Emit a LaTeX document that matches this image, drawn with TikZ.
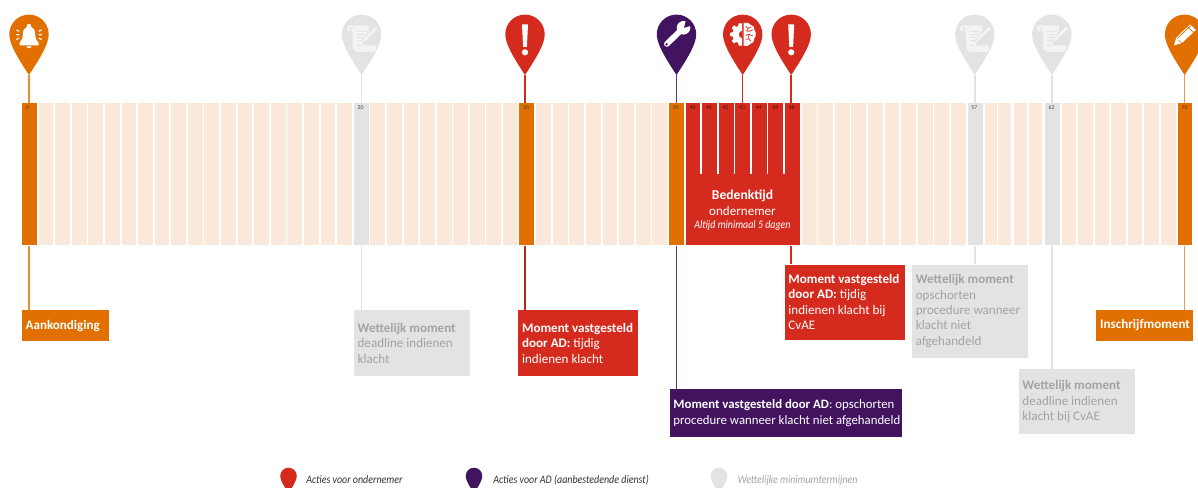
\documentclass[tikz,border=0pt]{standalone}
\usepackage{fontspec}
\setmainfont{Carlito}
\newfontfamily\legendfont[FakeStretch=0.87]{Carlito}
\definecolor{ror}{HTML}{E17000}
\definecolor{rre}{HTML}{D52B1E}
\definecolor{rpu}{HTML}{42145F}
\definecolor{rgr}{HTML}{E3E3E3}
\definecolor{rpa}{HTML}{FAE8DA}
\definecolor{rtx}{HTML}{A3A3A3}
\definecolor{ricg}{HTML}{F3F3F3}
\newcommand{\bl}[1]{\mbox{\spaceskip=2.2pt\relax #1}}
\tikzset{
  barbox/.style={anchor=north west,minimum width=14.8*0.75pt,minimum height=142*0.75pt,inner sep=0pt,fill=#1},
  daylabel/.style={font=\fontsize{4.3}{4.5}\selectfont,text=black!75,inner sep=0pt},
  infobox/.style={anchor=north west,inner ysep=0pt,inner xsep=2.9pt,align=left,fill=#1,font=\fontsize{9.8}{11.6}\selectfont},
  leader/.style={line width=1.1pt,draw=#1},
  legendtext/.style={anchor=west,inner sep=0pt,font=\legendfont\itshape\fontsize{8.6}{10}\selectfont,text=#1},
}
% teardrop in local pixels: head centre (0,0)
\newcommand{\teardrop}[1]{\fill[#1] (0,40.7) .. controls (-13,21) and (-19.7,9) .. (-19.7,0)
  .. controls (-19.7,-10.9) and (-10.9,-19.7) .. (0,-19.7)
  .. controls (10.9,-19.7) and (19.7,-10.9) .. (19.7,0)
  .. controls (19.7,9) and (13,21) .. (0,40.7) -- cycle;}
\newcommand{\iconbell}{%
  \fill[white] (0,-10.5) .. controls (-2.2,-10.5) and (-2.6,-8.5) .. (-2,-7.6)
   .. controls (-5,-6.5) and (-6.2,-3.5) .. (-6.2,0) .. controls (-6.2,4.5) and (-8,6.5) .. (-9.5,8.5)
   -- (-9.5,11) -- (9.5,11) -- (9.5,8.5) .. controls (8,6.5) and (6.2,4.5) .. (6.2,0)
   .. controls (6.2,-3.5) and (5,-6.5) .. (2,-7.6) .. controls (2.6,-8.5) and (2.2,-10.5) .. (0,-10.5) -- cycle;
  \fill[white] (-2.6,12) .. controls (-2,14.6) and (2,14.6) .. (2.6,12) -- cycle;
  \draw[white,line width=.9pt,line cap=round] (-12.3,-4.2)--(-10,-3.2) (-12.6,0.5)--(-10,0.5) (-12.3,5)--(-10,4)
    (12.3,-4.2)--(10,-3.2) (12.6,0.5)--(10,0.5) (12.3,5)--(10,4);}
\newcommand{\iconscript}{%
  \fill[ricg] (-15,-5.5) .. controls (-15,-9) and (-12,-9) .. (-11,-9) -- (7,-9) -- (7,-3) -- (1,6) -- (1,11)
   -- (13,11) .. controls (15,12) and (15,17) .. (12,17.5) -- (-5,17.5) .. controls (-8,17) and (-9,14) .. (-9,11)
   -- (-9,-3.5) -- (-13,-3) .. controls (-14,-3) and (-15,-4) .. (-15,-5.5) -- cycle;
  \draw[rgr,line width=.6pt] (-5,-3)--(5,-3) (-5,0)--(3,0) (-5,3)--(1,3) (-5,6)--(0,6) (-5,11)--(0,11);
  \fill[rgr] (-12,-6) .. controls (-12,-7.5) and (-10,-7.5) .. (-10,-6) -- (-10,-4) -- (-12,-5) -- cycle;
  \draw[rgr,line width=3.2pt] (15,-6.5)--(0.5,8);
  \draw[ricg,line width=2.1pt] (15.2,-6.7)--(3,5.5);
  \fill[ricg] (3.8,6.3) -- (2.2,4.7) -- (0,8.5) -- cycle;}
\newcommand{\iconexcl}{%
  \fill[white] (-3,-9.8) -- (3,-9.8) -- (1.9,12.6) -- (-1.9,12.6) -- cycle;
  \fill[white] (0,18) ellipse [x radius=3.1, y radius=3.1];}
\newcommand{\iconwrench}{%
  \draw[white,line width=4.3pt,line cap=round] (-9.6,9.6) -- (5,-4.5);
  \fill[white] (7,-6.5) ellipse [x radius=6.8, y radius=6.8];
  \fill[rpu] (7.5,-6.5) -- (9.5,-14) -- (14.6,-12) -- (14.6,-8.5) -- cycle;
  \fill[rpu] (-10,10) ellipse [x radius=1.3, y radius=1.3];}
\newcommand{\icongear}{%
  \fill[white] (-0.5,-11) -- (-4,-11) -- (-4.5,-8.4) -- (-6.4,-7.4) -- (-8.6,-9) -- (-11,-6.4) -- (-9.2,-4.2)
   -- (-10,-2) -- (-12.6,-1.6) -- (-12.6,1.8) -- (-10,2.2) -- (-9.2,4.4) -- (-11,6.6) -- (-8.6,9.2) -- (-6.4,7.6)
   -- (-4.5,8.6) -- (-4,11.4) -- (-0.5,11.4) -- cycle;
  \fill[rre] (-0.5,-3.4) .. controls (-5,-3.4) and (-5,3.6) .. (-0.5,3.6) -- cycle;
  \fill[white] (1,-11.4) .. controls (4,-12.4) and (7,-11.4) .. (8,-9.4) .. controls (11,-9) and (12,-6.5) .. (11.6,-4.6)
   .. controls (13.6,-2.5) and (13.6,2) .. (11.6,4) .. controls (12,7) and (10,9) .. (8,9.4)
   .. controls (6.5,11.6) and (3,12.4) .. (1,11.4) -- cycle;
  \draw[rre,line width=.55pt] (3,-8)--(5,-6)--(8,-7) (3,-3.5)--(7,-3)--(10,-4.5) (3,1)--(6,0)--(10,1.5) (3,5)--(6,4.5)--(8,7) (5,-6)--(5,-3.2) (6,0)--(6,4.5);}
\newcommand{\iconpencil}{%
  \fill[white] (-10.7,11) -- (-8.4,3.6) -- (5.4,-10) -- (11.2,-4.3) -- (-3,9) -- cycle;
  \draw[ror,line width=.5pt] (2.9,-7.6) -- (8.7,-1.9) (-6,5.8) -- (-0.8,11) (-6.8,3.8) -- (6,-8.5);}
\newcommand{\mypin}[4]{\begin{scope}[shift={(#1,34.3)}]\teardrop{#2}#3\end{scope}\coordinate (#4) at (#1,75);}
\newcommand{\legendpin}[3]{\begin{scope}[shift={(#1,476)},scale=.42]\teardrop{#2}\end{scope}\coordinate (#3) at (#1,476);}
\begin{document}
\begin{tikzpicture}[x=0.75pt,y=-0.75pt]
\clip (0,0) rectangle (1198,488);
\useasboundingbox (0,0) rectangle (1198,488);
% pale day bars
\foreach \i in {1,...,19,21,22,...,29,31,32,...,38,47,48,...,56}
  {\pgfmathsetmacro{\xx}{21.7+16.59*\i}\node[barbox=rpa] (p\i) at (\xx,103) {};}
\foreach \xx/\w [count=\k] in {984.3/12,997.7/13.5,1014/12.5,1028.3/13,1061.4/14,1077.9/14.5,1094.4/14.5,1111/14.5,1127.6/14.5,1144.2/14.5,1160.8/14.5}
  {\node[barbox=rpa,minimum width=\w*0.75pt] (q\k) at (\xx,103) {};}
% marked bars
\node[barbox=ror] (b0) at (21.7,103) {};
\node[barbox=rgr] (b20) at (353.6,103) {};
\node[barbox=ror] (b30) at (519.2,103) {};
\node[barbox=ror] (b39) at (669,103) {};
\node[barbox=rre,minimum width=114.1*0.75pt] (bred) at (685.6,103) {};
\node[barbox=rgr] (b57) at (967.7,103) {};
\node[barbox=rgr] (b62) at (1044.6,103) {};
\node[barbox=ror] (b70) at (1177.3,103) {};
% slits in the red block
\foreach \k in {1,...,6}
  {\draw[white,line width=1.1pt] ({684.6+16.6*\k},103) -- ({684.6+16.6*\k},174);}
% day numbers
\node[daylabel] (n0) at (27.5,107.5) {0};
\node[daylabel] (n20) at (360.5,107.5) {20};
\node[daylabel] (n30) at (526,107.5) {30};
\node[daylabel] (n39) at (675.7,108) {39};
\foreach \d/\xx in {40/692.5,41/708.9,42/725.3,43/742,44/758.7,45/775.3,46/791.7}
  {\node[daylabel,text=black!70!rre] (n\d) at (\xx,108) {\d};}
\node[daylabel] (n57) at (974.3,108) {57};
\node[daylabel] (n62) at (1051.5,107.5) {62};
\node[daylabel,text=black!60!ror] (n70) at (1184.5,108) {70};
% text in the red block
\node[inner sep=0pt,text=white,font=\fontsize{10.2}{12}\selectfont\bfseries] (bt1) at (742.5,195.7) {Bedenktijd};
\node[inner sep=0pt,text=white,font=\fontsize{9.8}{12}\selectfont] (bt2) at (742.5,211.5) {ondernemer};
\node[inner sep=0pt,text=white,font=\legendfont\itshape\fontsize{8.6}{10}\selectfont] (bt3) at (742.5,225.5) {Altijd minimaal 5 dagen};
% pins
\mypin{29}{ror}{\iconbell}{t0}
\mypin{361.6}{rgr}{\iconscript}{t20}
\mypin{525}{rre}{\iconexcl}{t30}
\mypin{676.5}{rpu}{\iconwrench}{t39}
\mypin{742.7}{rre}{\icongear}{t43}
\mypin{791.2}{rre}{\iconexcl}{t46}
\mypin{974.8}{rgr}{\iconscript}{t57}
\mypin{1051.8}{rgr}{\iconscript}{t62}
\mypin{1184.6}{ror}{\iconpencil}{t70}
% info boxes
\node[infobox=ror,text=white,minimum height=31*0.75pt,text width=79.7*0.75pt] (i0) at (21.5,310) {\bl{\bfseries Aankondiging}};
\node[infobox=rgr,text=rtx,minimum height=66*0.75pt,text width=108.7*0.75pt] (i20) at (353.5,310) {\bl{\textbf{Wettelijk moment}}\\\bl{deadline indienen}\\\bl{klacht}};
\node[infobox=rre,text=white,minimum height=66*0.75pt,text width=112.2*0.75pt] (i30) at (518,310) {\bl{\textbf{Moment vastgesteld}}\\\bl{\textbf{door AD:} tijdig}\\\bl{indienen klacht}};
\node[infobox=rre,text=white,minimum height=75*0.75pt,text width=112.2*0.75pt] (i46) at (784.3,264.3) {\bl{\textbf{Moment vastgesteld}}\\\bl{\textbf{door AD:} tijdig}\\\bl{indienen klacht bij}\\\bl{CvAE}};
\node[infobox=rgr,text=rtx,minimum height=93*0.75pt,text width=108.2*0.75pt] (i57) at (911.7,264.3) {\bl{\textbf{Wettelijk moment}}\\\bl{opschorten}\\\bl{procedure wanneer}\\\bl{klacht niet}\\\bl{afgehandeld}};
\node[infobox=rpu,text=white,font=\fontsize{9.6}{11.6}\selectfont,minimum height=47.3*0.75pt,text width=224.6*0.75pt] (i39) at (669.3,389) {\bl{\textbf{Moment vastgesteld door AD}: opschorten}\\\bl{procedure wanneer klacht niet afgehandeld}};
\node[infobox=rgr,text=rtx,minimum height=65*0.75pt,text width=108.2*0.75pt] (i62) at (1018.3,369) {\bl{\textbf{Wettelijk moment}}\\\bl{deadline indienen}\\\bl{klacht bij CvAE}};
\node[infobox=ror,text=white,minimum height=31*0.75pt,text width=88.9*0.75pt] (i70) at (1096,309.7) {\bl{\bfseries Inschrijfmoment}};
% connectors
\draw[leader=ror!80!white] (t0) -- (t0 |- b0.north);
\draw[leader=ror!80!white] (t0 |- b0.south) -- (t0 |- i0.north);
\draw[leader=rgr] (t20) -- (t20 |- b20.north);
\draw[leader=rgr] (t20 |- b20.south) -- (t20 |- i20.north);
\draw[leader=rre] (t30) -- (t30 |- b30.north);
\draw[leader=rre!85!black] (t30 |- b30.south) -- (t30 |- i30.north);
\draw[leader=rpu!85!white] (t39) -- (t39 |- b39.north);
\draw[leader=rpu!85!white] (t39 |- b39.south) -- (t39 |- i39.north);
\draw[leader=rre] (t43) -- (t43 |- bred.north);
\draw[leader=rre] (t46) -- (t46 |- bred.north);
\draw[leader=rre] (t46 |- bred.south) -- (t46 |- i46.north);
\draw[leader=rgr] (t57) -- (t57 |- b57.north);
\draw[leader=rgr] (t57 |- b57.south) -- (t57 |- i57.north);
\draw[leader=rgr] (t62) -- (t62 |- b62.north);
\draw[leader=rgr] (t62 |- b62.south) -- (t62 |- i62.north);
\draw[leader=ror!70!white] (t70) -- (t70 |- b70.north);
\draw[leader=ror!70!white] (t70 |- b70.south) -- (t70 |- i70.north);
% legend
\legendpin{288.5}{rre}{l1}
\legendpin{474}{rpu}{l2}
\legendpin{719}{rgr}{l3}
\node[legendtext=black!80] (lt1) at (306,480) {Acties voor ondernemer};
\node[legendtext=black!80] (lt2) at (493,480) {Acties voor AD (aanbestedende dienst)};
\node[legendtext=rtx] (lt3) at (737.5,480) {Wettelijke minimumtermijnen};
\end{tikzpicture}
\end{document}
